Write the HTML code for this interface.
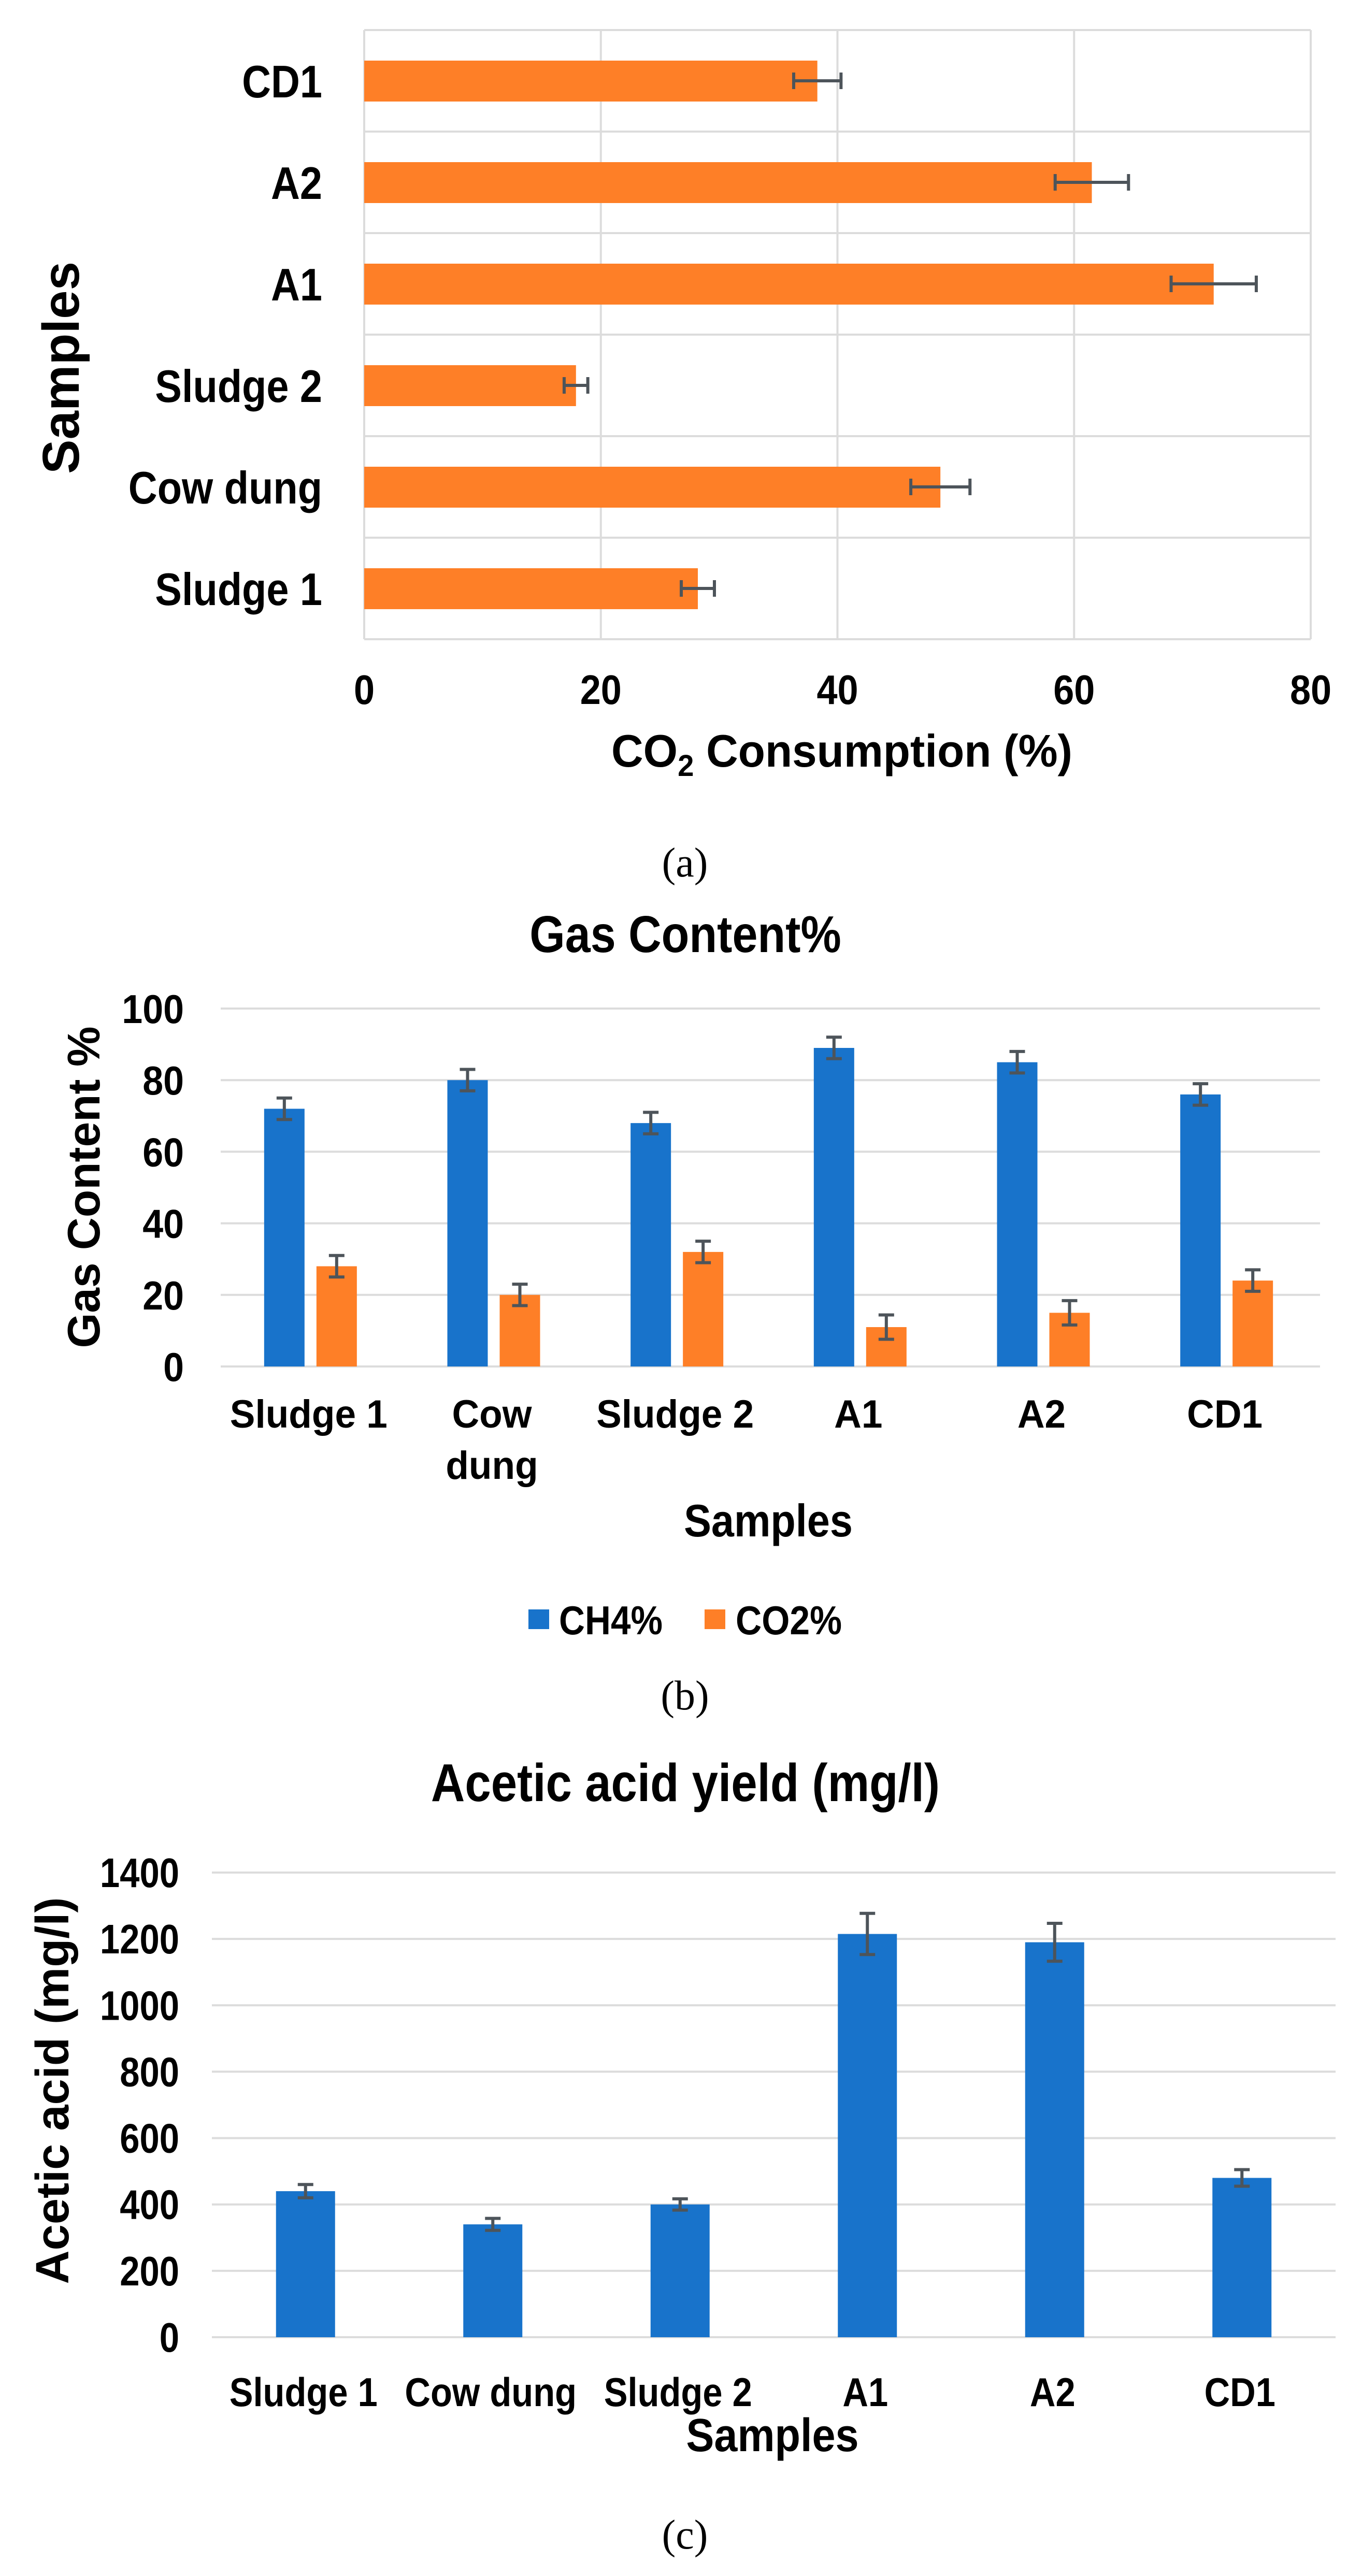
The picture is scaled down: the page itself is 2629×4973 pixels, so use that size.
<!DOCTYPE html>
<html><head><meta charset="utf-8">
<style>
html,body{margin:0;padding:0;background:#fff;}
svg{display:block;}
text{font-family:"Liberation Sans",Arial,sans-serif;font-weight:bold;fill:#000;}
.cap{font-family:"Liberation Serif",serif;font-weight:normal;}
</style></head>
<body>
<svg id="fig" width="2629" height="4973" viewBox="0 0 2629 4973" xmlns="http://www.w3.org/2000/svg"></svg>
<script>
// ---- Chart A data ----
const catsA = ["Sludge 1","Cow dung","Sludge 2","A1","A2","CD1"];
const valsA = [28.2,48.7,17.9,71.8,61.5,38.3];
const errA = [1.4,2.5,1.0,3.6,3.1,2.0];
const ticksA = [0,20,40,60,80];
// ---- Chart B data ----
const catsB = ["Sludge 1","Cow\ndung","Sludge 2","A1","A2","CD1"];
const ch4B = [72,80,68,89,85,76];
const ch4ErrB = [3,3,3,3,3,3];
const co2B = [28,20,32,11,15,24];
const co2ErrB = [3,3,3,3.4,3.4,3];
const ticksB = [0,20,40,60,80,100];
// ---- Chart C data ----
const catsC = ["Sludge 1","Cow dung","Sludge 2","A1","A2","CD1"];
const valsC = [440,340,400,1215,1190,480];
const errC = [20,18,17,62,57,25];
const ticksC = [0,200,400,600,800,1000,1200,1400];

const NS="http://www.w3.org/2000/svg";
const svg=document.getElementById('fig');
const ORANGE="#FE7F27", BLUE="#1873CB", ERR="#4d545a", GRID="#dcdcdc";
function mk(tag,attrs,parent){const e=document.createElementNS(NS,tag);for(const k in attrs)e.setAttribute(k,attrs[k]);(parent||svg).appendChild(e);return e;}
const narrowList=[];
function txt(s,x,y,size,anchor,name,opts){
  opts=opts||{};
  const t=mk('text',{x:x,y:y,'font-size':size,'text-anchor':anchor||'middle'});
  
  
  if(opts.cls)t.setAttribute('class',opts.cls);
  if(opts.rot)t.setAttribute('transform','rotate(-90 '+x+' '+y+')');
  t.textContent=s;
  if(opts.narrow)narrowList.push([t,opts.narrow]);
  if(opts.len){t.setAttribute('textLength',opts.len);t.setAttribute('lengthAdjust','spacingAndGlyphs');}
  return t;
}
function line(x1,y1,x2,y2,c,w,name){const l=mk('line',{x1,y1,x2,y2,stroke:c,'stroke-width':w});
  
  
  return l;}
function rect(x,y,w,h,c,name){const r=mk('rect',{x,y,width:w,height:h,fill:c});
  
  
  return r;}

// ===== Chart A (horizontal bars) =====
(function(){
  const L=703,R=2530,T=58,B=1234,max=80;
  const xA=v=>L+(R-L)*v/max;
  const rowH=(B-T)/catsA.length;
  const yA=i=>B-rowH*(i+0.5);
  ticksA.forEach(v=>{ if(v>0) line(xA(v),T,xA(v),B,GRID,4,'x-gridline');
    txt(String(v),xA(v),1359,80,'middle','x-tick-label',{narrow:0.9}); });
  for(let i=0;i<=catsA.length;i++) line(L,T+rowH*i,R,T+rowH*i,GRID,4,'row-gridline');
  line(L,T,L,B,GRID,4,'y-axis-line');
  catsA.forEach((c,i)=>{
    const cy=yA(i);
    rect(L,cy-39,xA(valsA[i])-L,79,ORANGE,'bar-'+c.toLowerCase().replace(' ','-'));
    const e1=xA(valsA[i]-errA[i]),e2=xA(valsA[i]+errA[i]);
    line(e1,cy,e2,cy,ERR,6,'error-bar');
    line(e1,cy-16,e1,cy+16,ERR,6,'error-cap');
    line(e2,cy-16,e2,cy+16,ERR,6,'error-cap');
    txt(c,622,cy+32,88,'end','y-tick-label',{narrow:0.88});
  });
  const t=txt('CO',1180,1480,88,'start','x-axis-title',{});
  t.textContent='';
  const a=mk('tspan',{},t);a.textContent='CO';
  const b=mk('tspan',{dy:18,'font-size':58},t);b.textContent='2';
  const c=mk('tspan',{dy:-18},t);c.textContent=' Consumption  (%)';
  t.setAttribute('textLength',890);t.setAttribute('lengthAdjust','spacingAndGlyphs');
  txt('Samples',152,710,100,'middle','y-axis-title',{rot:true,len:410});
  txt('(a)',1322,1692,80,'middle','caption-a',{cls:'cap'});
})();

// ===== Chart B (grouped bars) =====
(function(){
  const L=426,R=2548,T=1947,B=2638,max=100;
  const yB=v=>B-(B-T)*v/max;
  const gw=(R-L)/catsB.length;
  const cx=i=>L+gw*(i+0.5);
  txt('Gas Content%',1323,1838,100,'middle','chart-title',{narrow:0.88});
  ticksB.forEach(v=>{ line(L,yB(v),R,yB(v),GRID,4,'y-gridline');
    txt(String(v),355,yB(v)+28,78,'end','y-tick-label',{narrow:0.92}); });
  function bar(x,v,e,col,name){
    rect(x-39,yB(v),78,B-yB(v),col,name);
    line(x,yB(v+e),x,yB(v-e),ERR,6,'error-bar');
    line(x-15,yB(v+e),x+15,yB(v+e),ERR,6,'error-cap');
    line(x-15,yB(v-e),x+15,yB(v-e),ERR,6,'error-cap');
  }
  catsB.forEach((c,i)=>{
    bar(cx(i)-54,ch4B[i],ch4ErrB[i],BLUE,'bar-ch4');
    bar(cx(i)+47,co2B[i],co2ErrB[i],ORANGE,'bar-co2');
    const parts=c.split('\n');
    parts.forEach((p,j)=>txt(p,cx(i)-7,2756+j*99,76,'middle','x-tick-label',{narrow:0.96}));
  });
  txt('Samples',1483,2966,88,'middle','x-axis-title',{narrow:0.9});
  txt('Gas Content %',192,2292,88,'middle','y-axis-title',{rot:true,len:621});
  rect(1020,3107,40,38,BLUE,'legend-swatch-ch4');
  txt('CH4%',1079,3155,78,'start','legend-label-ch4',{len:200});
  rect(1360,3107,40,38,ORANGE,'legend-swatch-co2');
  txt('CO2%',1420,3155,78,'start','legend-label-co2',{len:205});
  txt('(b)',1322,3300,80,'middle','caption-b',{cls:'cap'});
})();

// ===== Chart C (single bars) =====
(function(){
  const L=409,R=2578,T=3615,B=4512,max=1400;
  const yC=v=>B-(B-T)*v/max;
  const gw=(R-L)/catsC.length;
  const cx=i=>L+gw*(i+0.5);
  txt('Acetic acid yield (mg/l)',1323,3477,103,'middle','chart-title',{narrow:0.88});
  ticksC.forEach(v=>{ line(L,yC(v),R,yC(v),GRID,4,'y-gridline');
    txt(String(v),346,yC(v)+28,80,'end','y-tick-label',{narrow:0.86}); });
  catsC.forEach((c,i)=>{
    const x=cx(i), v=valsC[i], e=errC[i];
    rect(x-57,yC(v),114,B-yC(v),BLUE,'bar-'+c.toLowerCase().replace(' ','-'));
    line(x,yC(v+e),x,yC(v-e),ERR,6,'error-bar');
    line(x-15,yC(v+e),x+15,yC(v+e),ERR,6,'error-cap');
    line(x-15,yC(v-e),x+15,yC(v-e),ERR,6,'error-cap');
    txt(c,x-4,4645,78,'middle','x-tick-label',{narrow:0.88});
  });
  txt('Samples',1491,4732,90,'middle','x-axis-title',{narrow:0.9});
  txt('Acetic acid (mg/l)',132,4036,90,'middle','y-axis-title',{rot:true,len:747});
  txt('(c)',1322,4920,80,'middle','caption-c',{cls:'cap'});
})();

narrowList.forEach(([t,r])=>{const w=t.getComputedTextLength();
  t.setAttribute('textLength',(w*r).toFixed(1));t.setAttribute('lengthAdjust','spacingAndGlyphs');});
</script>
</body></html>
